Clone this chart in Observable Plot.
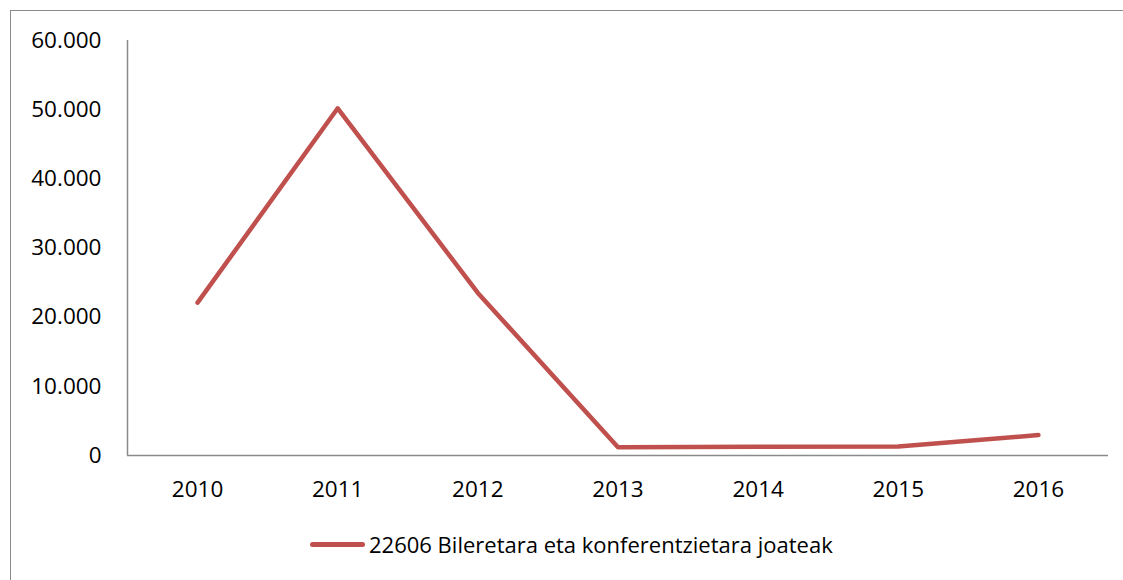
<!DOCTYPE html>
<html>
<head>
<meta charset="utf-8">
<script src="https://cdn.jsdelivr.net/npm/d3@7"></script>
<script src="https://cdn.jsdelivr.net/npm/@observablehq/plot@0.6"></script>
<style>
  html, body { margin: 0; padding: 0; background: #fff; }
  #wrap { position: relative; width: 1123px; height: 580px; overflow: hidden; font-family: "Open Sans", sans-serif; }
  #frame { position: absolute; left: 10px; top: 10px; width: 1200px; height: 700px; border-left: 1.5px solid #8a8a8a; border-top: 1.5px solid #8a8a8a; }
  #chart { position: absolute; left: 0; top: 0; }
  #legend { position: absolute; left: 310px; top: 529px; display: flex; align-items: center; font-size: 22px; color: #000; white-space: nowrap; }
  #legend .sw { width: 55px; height: 5px; background: #C0504D; border-radius: 3px; margin-right: 4px; }
</style>
</head>
<body>
<div id="wrap">
  <div id="frame"></div>
  <div id="chart"></div>
  <div id="legend"><span class="sw"></span><span id="legtext"></span></div>
</div>
<script>
const years = [2010, 2011, 2012, 2013, 2014, 2015, 2016];
const values = [22100, 50200, 23500, 1200, 1250, 1300, 2950];
const yTicks = [0, 10000, 20000, 30000, 40000, 50000, 60000];
const seriesName = "22606 Bileretara eta konferentzietara joateak";

const data = years.map((y, i) => ({year: y, value: values[i]}));
const fmt = d => d3.format(",")(d).replace(/,/g, ".");

const chart = Plot.plot({
  width: 1123,
  height: 520,
  marginLeft: 127,
  marginRight: 15,
  marginTop: 40,
  marginBottom: 65,
  style: {fontFamily: "Open Sans, sans-serif", fontSize: "22.5px", color: "#000", background: "transparent", overflow: "visible"},
  x: {type: "linear", domain: [2009.5, 2016.5]},
  y: {domain: [0, 60000]},
  marks: [
    Plot.axisY({ticks: yTicks, tickFormat: fmt, tickSize: 0, tickPadding: 26, label: null}),
    Plot.axisX({ticks: years, tickFormat: d => String(d), tickSize: 0, tickPadding: 26, label: null}),
    Plot.ruleY([0], {stroke: "#8a8a8a", strokeWidth: 1.5}),
    Plot.ruleX([2009.5], {stroke: "#8a8a8a", strokeWidth: 1.5}),
    Plot.line(data, {x: "year", y: "value", stroke: "#C0504D", strokeWidth: 4.5, strokeLinecap: "round", strokeLinejoin: "round"})
  ]
});
document.getElementById("chart").appendChild(chart);
document.getElementById("legtext").textContent = seriesName;
</script>
</body>
</html>
